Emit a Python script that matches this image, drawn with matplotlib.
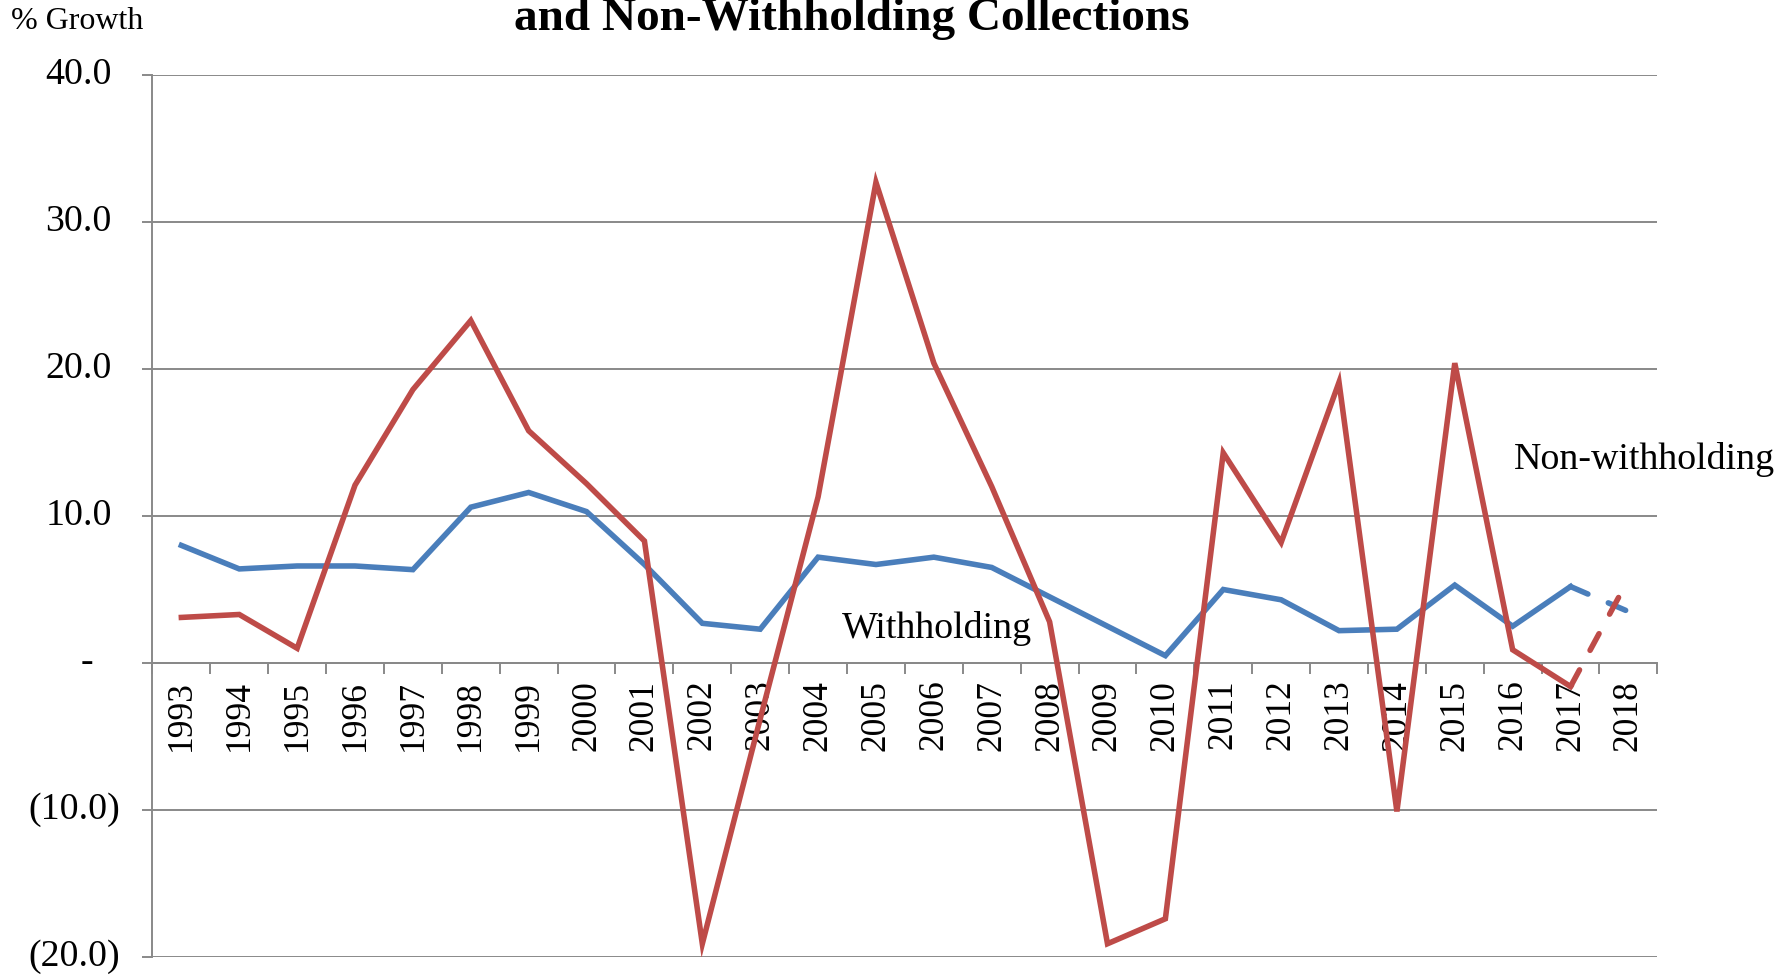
import matplotlib
matplotlib.use('Agg')
import matplotlib.pyplot as plt
import numpy as np

plt.rcParams['font.family'] = ['Liberation Serif', 'DejaVu Serif']

# data
years = [str(y) for y in range(1993, 2019)]
withholding = [8.0, 6.4, 6.6, 6.6, 6.35, 10.6, 11.6, 10.3, 6.7, 2.7,
               2.3, 7.2, 6.7, 7.2, 6.5, 4.5, 2.5, 0.5, 5.0, 4.3,
               2.2, 2.3, 5.3, 2.5, 5.2, 3.5]
non_withholding = [3.1, 3.3, 1.0, 12.1, 18.6, 23.3, 15.8, 12.2, 8.3, -19.1,
                   -3.8, 11.3, 32.7, 20.4, 12.0, 2.8, -19.1, -17.4, 14.3, 8.2,
                   19.1, -10.1, 20.4, 0.9, -1.6, 5.7]
y_ticks = [-20, -10, 0, 10, 20, 30, 40]
y_labels = ['(20.0)', '(10.0)', '-', '10.0', '20.0', '30.0', '40.0']

blue = '#4A7EBB'
red = '#BE4B48'
grid_c = '#898989'

fig = plt.figure(figsize=(17.85, 9.77), dpi=100)
ax = fig.add_axes([0.0854, 0.0205, 0.8431, 0.9027])

x = np.arange(len(years))
lw = 4.0
# actual values (solid), last year as forecast (dashed)
ax.plot(x[:-1], withholding[:-1], color=blue, lw=lw, solid_joinstyle='miter', zorder=3)
ax.plot(x[:-1], non_withholding[:-1], color=red, lw=lw, solid_joinstyle='miter', zorder=4)
ax.plot(x[-2:], withholding[-2:], color=blue, lw=lw, dashes=(3.4, 4.0), dash_capstyle='round', zorder=3)
ax.plot(x[-2:], non_withholding[-2:], color=red, lw=lw, dashes=(3.4, 4.0), dash_capstyle='round', zorder=4)

ax.set_xlim(-0.5, len(years) - 0.5)
ax.set_ylim(-20, 40)

# gridlines and axes
ax.set_yticks(y_ticks)
ax.set_yticklabels([])
ax.yaxis.grid(True, color=grid_c, lw=1.4)
ax.set_axisbelow(True)
ax.tick_params(axis='y', direction='out', length=7, width=1.4, color=grid_c)
for s in ['top', 'right']:
    ax.spines[s].set_visible(False)
ax.spines['left'].set_color(grid_c)
ax.spines['left'].set_linewidth(1.4)
ax.spines['bottom'].set_position(('data', 0))
ax.spines['bottom'].set_color(grid_c)
ax.spines['bottom'].set_linewidth(1.4)

ax.set_xticks(np.arange(len(years) + 1) - 0.5)
ax.set_xticklabels([])
ax.tick_params(axis='x', which='major', direction='out', length=8, width=1.4, color=grid_c)
ax.set_xticks(x, minor=True)
ax.set_xticklabels(years, minor=True, rotation=90, fontsize=25.5)
ax.tick_params(axis='x', which='minor', length=0, pad=12)

# y labels in accounting style
fs = 27.3
ytr = ax.get_yaxis_transform()
for v, lab in zip(y_ticks, y_labels):
    if lab.startswith('('):
        ax.text(-0.0216, v, lab, transform=ytr, ha='right', va='center', fontsize=fs)
    elif lab == '-':
        ax.text(-0.0432, v, lab, transform=ytr, ha='center', va='center', fontsize=fs)
    else:
        ax.text(-0.0269, v, lab, transform=ytr, ha='right', va='center', fontsize=fs)

ax.text(11.41, 2.33, 'Withholding', ha='left', va='center', fontsize=fs)
ax.text(23.02, 13.86, 'Non-withholding', ha='left', va='center', fontsize=fs)

fig.text(0.477, 1 - 30 / 977, 'and Non-Withholding Collections', ha='center', va='baseline',
         fontsize=34, fontweight='bold')
fig.text(0.006, 1 - 29 / 977, '% Growth', ha='left', va='baseline', fontsize=23)

fig.savefig('out.png', dpi=100)
